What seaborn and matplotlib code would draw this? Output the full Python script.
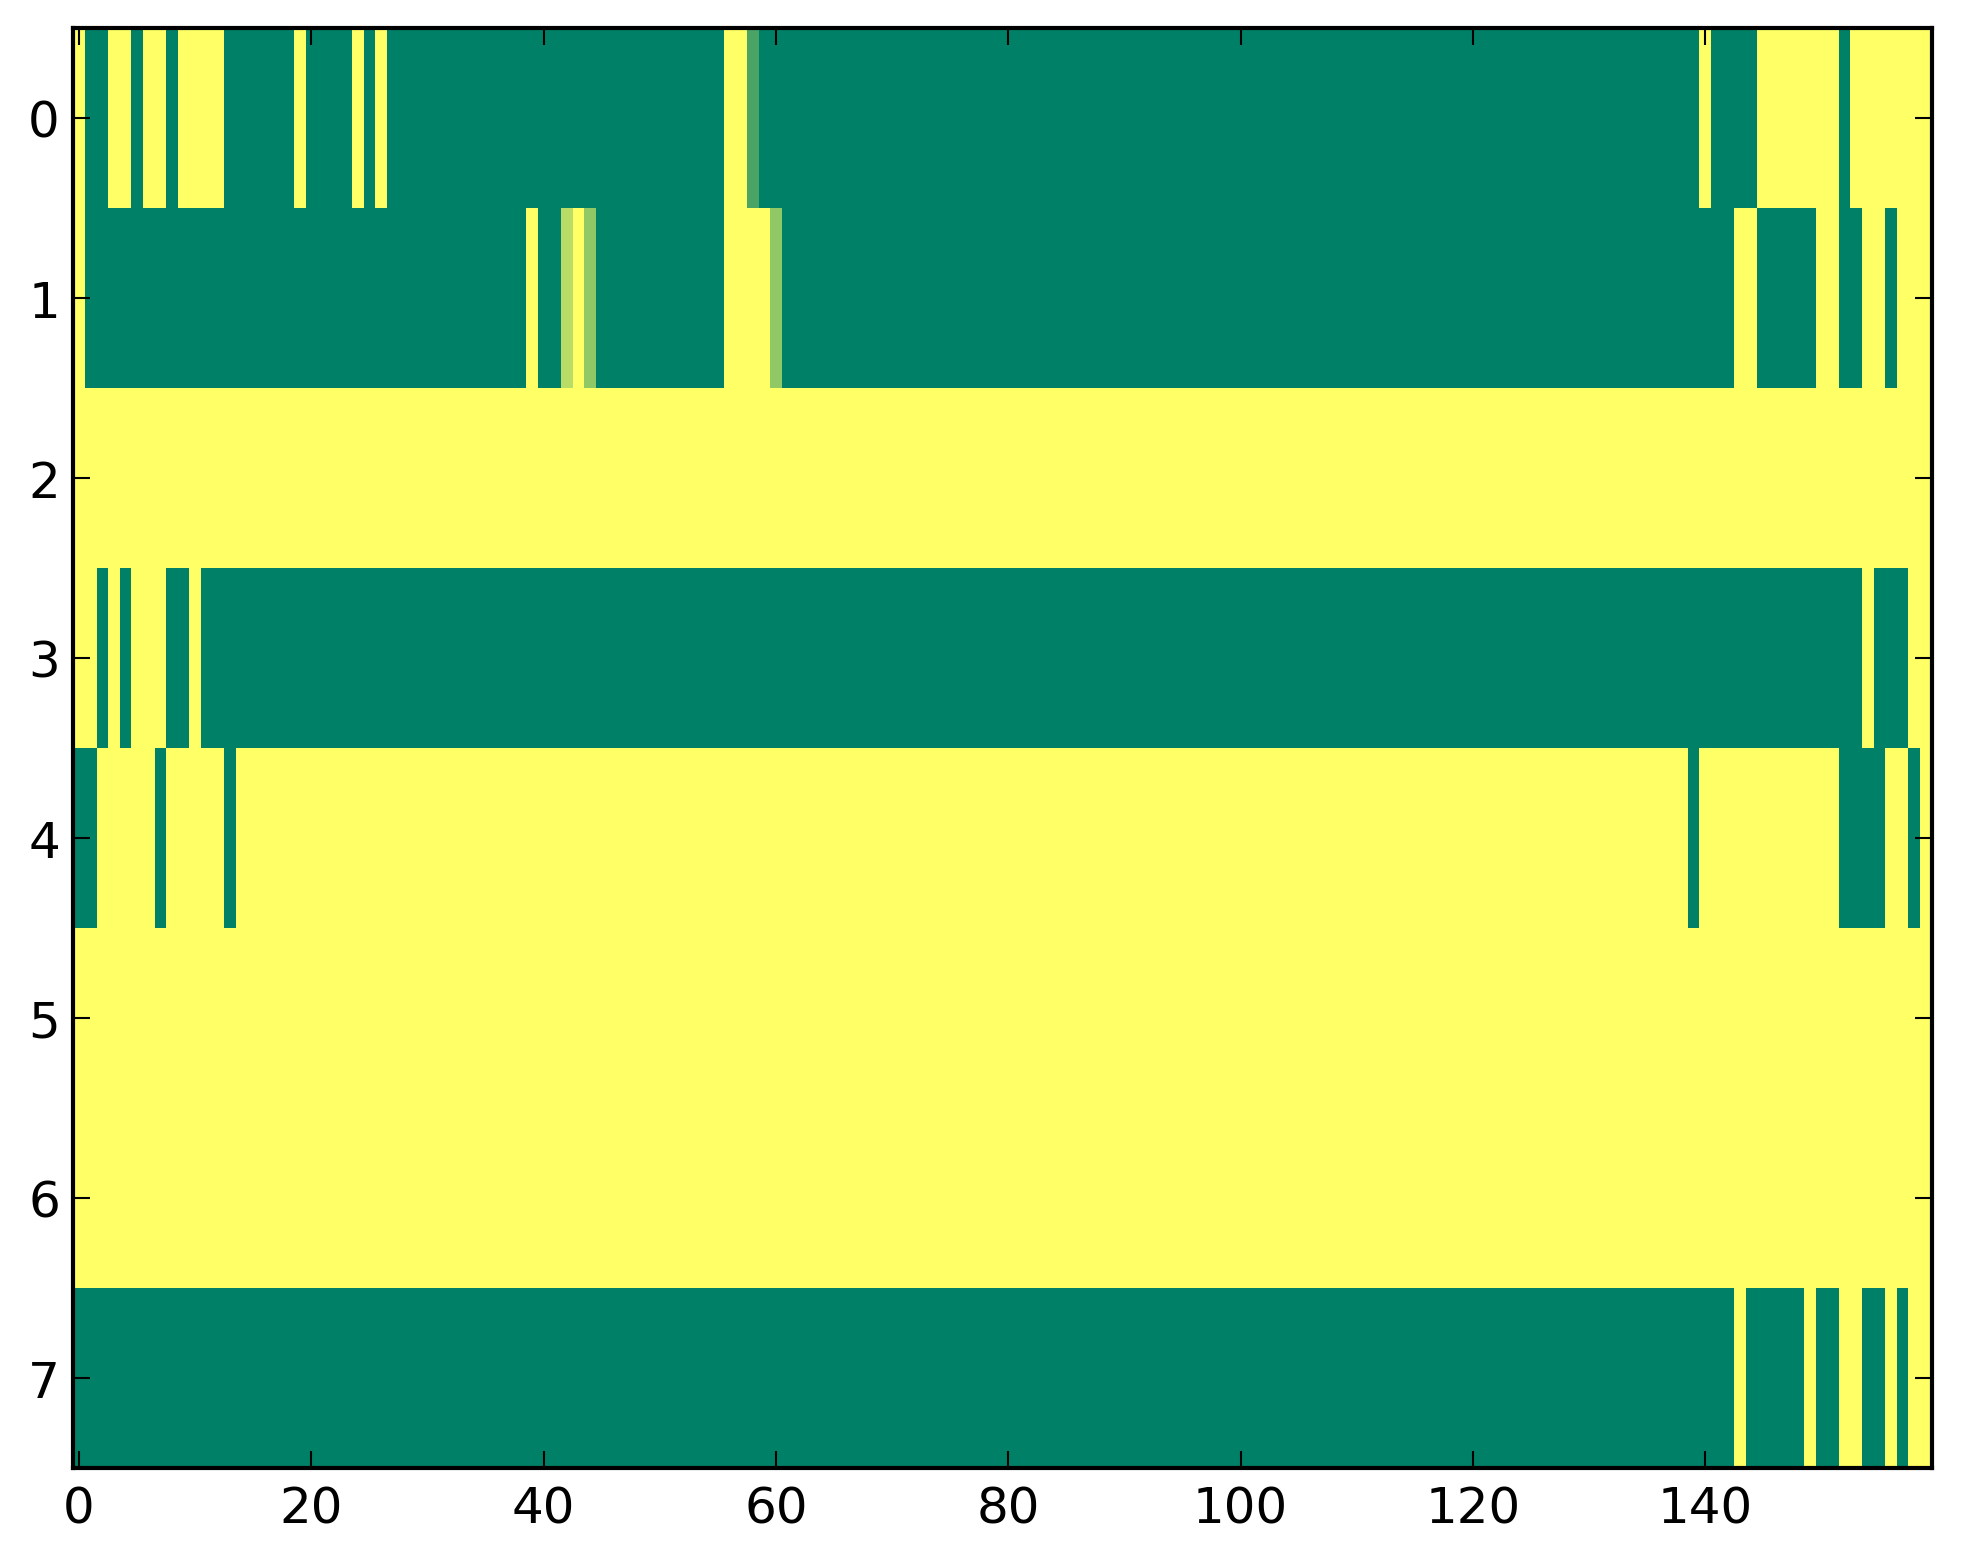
import numpy as np
import matplotlib
matplotlib.use("Agg")
import matplotlib.pyplot as plt
import seaborn as sns

N_COLS = 160
row_labels = [0, 1, 2, 3, 4, 5, 6, 7]
x_tick_values = [0, 20, 40, 60, 80, 100, 120, 140]

# each row is a list of (value, run length), left to right
row_0 = [(1, 1), (0, 2), (1, 2), (0, 1), (1, 2), (0, 1), (1, 4), (0, 6), (1, 1), (0, 4),
         (1, 1), (0, 1), (1, 1), (0, 29), (1, 2), (0.29, 1), (0, 81), (1, 1), (0, 4),
         (1, 7), (0, 1), (1, 7)]
row_1 = [(1, 1), (0, 38), (1, 1), (0, 2), (0.72, 1), (1, 1), (0.57, 1), (0, 11), (1, 4),
         (0.57, 1), (0, 82), (1, 2), (0, 5), (1, 2), (0, 2), (1, 2), (0, 1), (1, 3)]
row_2 = [(1, 160)]
row_3 = [(1, 2), (0, 1), (1, 1), (0, 1), (1, 3), (0, 2), (1, 1), (0, 143), (1, 1),
         (0, 3), (1, 2)]
row_4 = [(0, 2), (1, 5), (0, 1), (1, 5), (0, 1), (1, 125), (0, 1), (1, 12), (0, 4),
         (1, 2), (0, 1), (1, 1)]
row_5 = [(1, 160)]
row_6 = [(1, 160)]
row_7 = [(0, 143), (1, 1), (0, 5), (1, 1), (0, 2), (1, 2), (0, 2), (1, 1), (0, 1), (1, 2)]


def expand(runs):
    values = []
    for v, n in runs:
        values += [v] * n
    return values


rows = [row_0, row_1, row_2, row_3, row_4, row_5, row_6, row_7]
matrix = np.array([expand(r) for r in rows], dtype=float)
assert matrix.shape == (8, N_COLS), matrix.shape

W, H, DPI = 1963, 1564, 300
fig = plt.figure(figsize=(W / DPI, H / DPI), dpi=DPI)
fig.patch.set_facecolor("white")
ax = fig.add_axes([73.3 / W, 95 / H, 1858.4 / W, 1440 / H])

sns.heatmap(matrix, cmap="summer", vmin=0, vmax=1, cbar=False, ax=ax,
            xticklabels=False, yticklabels=False)

ax.set_xticks(np.array(x_tick_values) + 0.5)
ax.set_xticklabels([str(v) for v in x_tick_values], rotation=0)
ax.set_yticks(np.array(row_labels) + 0.5)
ax.set_yticklabels([str(v) for v in row_labels], rotation=0)

for s in ax.spines.values():
    s.set_visible(True)
    s.set_linewidth(1.0)
    s.set_color("black")

ax.tick_params(direction="in", length=4, width=0.5, color="black",
               top=True, right=True, bottom=True, left=True,
               labeltop=False, labelright=False, labelsize=12)
ax.tick_params(axis="x", pad=4)
ax.tick_params(axis="y", pad=3.2)
for lbl in ax.get_xticklabels() + ax.get_yticklabels():
    lbl.set_family("DejaVu Sans")

fig.savefig("out.png", dpi=DPI)
